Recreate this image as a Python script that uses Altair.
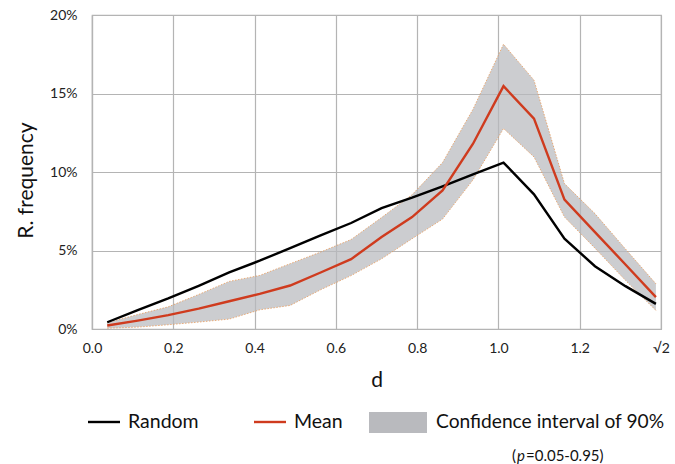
import altair as alt
import pandas as pd

# ---- data ----
d_values = [0.0375, 0.1125, 0.1875, 0.2625, 0.3375, 0.4125, 0.4875, 0.5625, 0.6375,
            0.7125, 0.7875, 0.8625, 0.9375, 1.0125, 1.0875, 1.1625, 1.2375, 1.3125, 1.3875]
random_freq = [0.43, 1.2, 1.95, 2.75, 3.6, 4.35, 5.15, 5.96, 6.75,
               7.7, 8.37, 9.09, 9.85, 10.6, 8.58, 5.75, 4.0, 2.73, 1.6]
mean_freq = [0.22, 0.53, 0.88, 1.3, 1.77, 2.24, 2.77, 3.6, 4.45,
             5.86, 7.13, 8.83, 11.8, 15.47, 13.4, 8.24, 6.17, 4.11, 2.03]
upper_freq = [0.4, 0.92, 1.41, 2.2, 3.03, 3.41, 4.16, 4.9, 5.7,
              7.1, 8.55, 10.6, 14.0, 18.14, 15.85, 9.26, 7.35, 5.1, 2.88]
lower_freq = [0.05, 0.12, 0.27, 0.44, 0.63, 1.22, 1.5, 2.5, 3.4,
              4.47, 5.75, 7.0, 9.5, 12.77, 10.96, 7.13, 5.15, 3.1, 1.18]

x_ticks = [0.0, 0.2, 0.4, 0.6, 0.8, 1.0, 1.2, 1.4]
y_ticks = [0, 5, 10, 15, 20]
legend_labels = ["Random", "Mean", "Confidence interval of 90%"]

df = pd.DataFrame({"d": d_values, "random": random_freq, "mean": mean_freq,
                   "upper": upper_freq, "lower": lower_freq})

FONT = "Lato"
GRID = "#b4b4b4"
RED = "#cf3b1e"
BAND = "#b9babe"

x_enc = alt.X("d:Q", scale=alt.Scale(domain=[0, 1.4], nice=False, zero=False),
              axis=alt.Axis(values=x_ticks, title="d",
                            labelExpr="datum.value >= 1.39 ? '√2' : format(datum.value, '.1f')",
                            labelFontSize=14, labelPadding=12, labelColor="#222",
                            labelFlush=False, labelOverlap=False,
                            titleFontSize=21, titleFontWeight="normal", titlePadding=14,
                            titleColor="#111", ticks=False, grid=True,
                            gridColor=GRID, gridWidth=1.2, domainColor=GRID, domainWidth=1.2))
y_scale = alt.Scale(domain=[0, 20], nice=False)
y_axis = alt.Axis(values=y_ticks, title="R. frequency", labelExpr="datum.value + '%'",
                  labelFontSize=14, labelPadding=15, labelColor="#222",
                  titleFontSize=21, titleFontWeight="normal", titleColor="#111",
                  titleX=-66, titleY=165, titleAngle=-90, titleAlign="center",
                  titleBaseline="middle",
                  ticks=False, grid=True, gridColor=GRID, gridWidth=1.2,
                  domainColor=GRID, domainWidth=1.2)

band = alt.Chart(df).mark_area(color=BAND, opacity=0.72).encode(
    x=x_enc, y=alt.Y("lower:Q", scale=y_scale, axis=y_axis), y2="upper:Q")
edge_up = alt.Chart(df).mark_line(color="#e89a5a", strokeWidth=0.8, strokeDash=[1.5, 1.5]).encode(
    x="d:Q", y="upper:Q")
edge_lo = alt.Chart(df).mark_line(color="#e89a5a", strokeWidth=0.8, strokeDash=[1.5, 1.5]).encode(
    x="d:Q", y="lower:Q")
rand_line = alt.Chart(df).mark_line(color="#000000", strokeWidth=2.4).encode(
    x="d:Q", y="random:Q")
mean_line = alt.Chart(df).mark_line(color=RED, strokeWidth=2.4).encode(
    x="d:Q", y="mean:Q")

one = pd.DataFrame({"k": [0]})
LY = 407  # legend row centre, relative to plot top
leg_black = alt.Chart(one).mark_rule(color="#000000", strokeWidth=2.4).encode(
    x=alt.value(-4), x2=alt.value(28), y=alt.value(LY))
leg_red = alt.Chart(one).mark_rule(color=RED, strokeWidth=2.4).encode(
    x=alt.value(162), x2=alt.value(194), y=alt.value(LY))
leg_rect = alt.Chart(one).mark_rect(color=BAND).encode(
    x=alt.value(277), x2=alt.value(335), y=alt.value(LY - 10), y2=alt.value(LY + 11))

def ltext(label, x, y, size=19, style="normal"):
    return alt.Chart(one).mark_text(align="left", baseline="middle", font=FONT,
                                    fontSize=size, fontStyle=style, color="#111").encode(
        x=alt.value(x), y=alt.value(y), text=alt.value(label))

leg_t1 = ltext(legend_labels[0], 36, LY, 19.5)
leg_t2 = ltext(legend_labels[1], 202, LY, 19.5)
leg_t3 = ltext(legend_labels[2], 344, LY, 19.2)
p1 = ltext("(", 420, 441, 15)
p2 = ltext("p", 425, 441, 15, "italic")
p3 = ltext("=0.05-0.95)", 434, 441, 15)

chart = alt.layer(band, edge_up, edge_lo, rand_line, mean_line,
                  leg_black, leg_red, leg_rect, leg_t1, leg_t2, leg_t3, p1, p2, p3).properties(
    width=569, height=314,
    autosize=alt.AutoSizeParams(type="none"),
    padding={"left": 92, "top": 15, "right": 14, "bottom": 135},
    background="white",
).configure_view(stroke=GRID, strokeWidth=1.2).configure_axis(
    labelFont=FONT, titleFont=FONT).configure_text(font=FONT)

chart.save("out.html", embed_options={"renderer": "svg", "actions": False})
